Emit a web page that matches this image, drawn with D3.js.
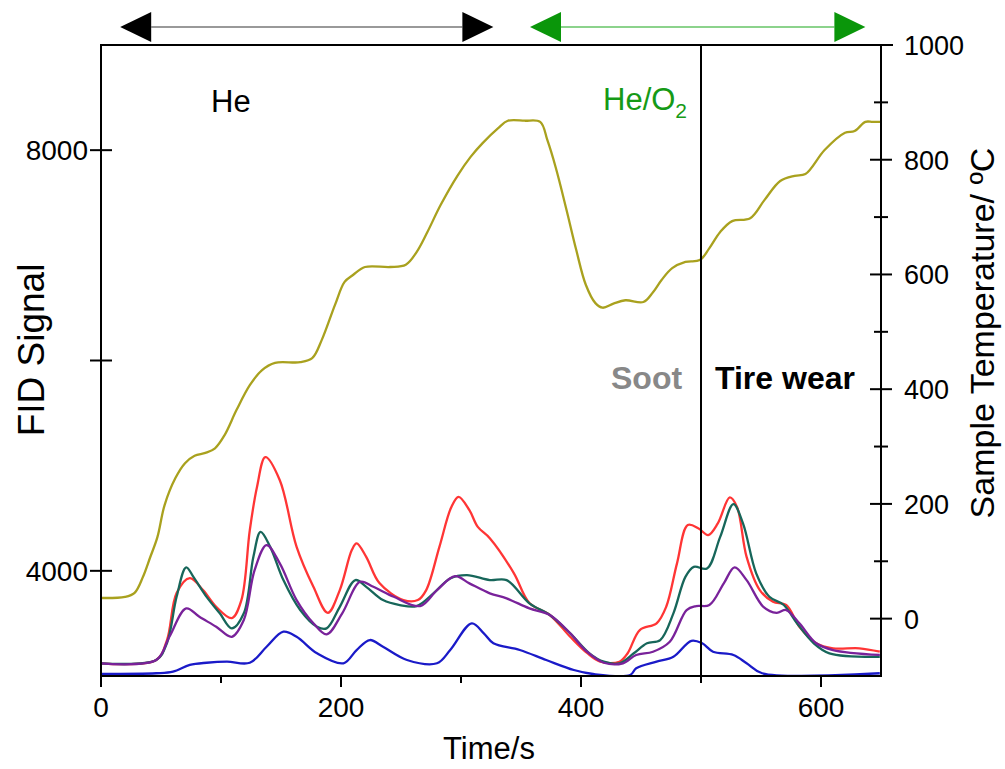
<!DOCTYPE html>
<html><head><meta charset="utf-8">
<script src="https://cdn.jsdelivr.net/npm/d3@7"></script>
<style>
html,body{margin:0;padding:0;background:#fff;}
text{font-family:"Liberation Sans",Arial,sans-serif;}
</style></head>
<body><svg id="c" width="1005" height="769"></svg>
<script>
// ---- data (time in s) ----
const redT   = [0,46,55,63,74,85,96,109,117,124,130,137,149,163,177,189,199,209,213,221,232,252,264,271,282,292,298,307,314,324,344,357,374,391,405,416,432,439,449,463,471,480,489,498,506,514,524,530,538,549,560,571,582,596,610,632,649];
const redV   = [3121,3152,3342,3789,3931,3817,3658,3551,3722,4387,4798,5081,4862,4228,3848,3601,3817,4197,4261,4133,3884,3722,3722,3817,4228,4608,4704,4577,4418,4311,3979,3694,3580,3373,3219,3136,3136,3219,3437,3501,3658,4071,4435,4403,4340,4451,4698,4608,4133,3817,3706,3675,3468,3311,3263,3263,3231];
const tealT  = [0,46,55,63,71,77,88,99,109,119,127,133,141,152,166,180,188,199,212,221,235,249,263,277,291,305,324,338,357,374,391,407,419,432,444,455,466,477,487,494,505,516,527,535,546,557,569,580,594,607,649];
const tealV  = [3121,3152,3314,3753,4033,3943,3753,3596,3453,3596,4133,4371,4228,3912,3627,3468,3453,3658,3912,3848,3722,3675,3665,3786,3928,3960,3912,3912,3691,3580,3406,3216,3136,3121,3216,3311,3342,3596,3943,4038,4023,4323,4634,4451,3976,3753,3675,3501,3311,3216,3183];
const purpT  = [0,46,57,71,82,96,109,119,128,138,149,163,177,188,201,216,227,244,266,280,295,307,324,338,357,374,391,405,419,435,446,460,474,488,496,507,519,528,538,552,563,571,582,596,610,649];
const purpV  = [3121,3152,3373,3643,3563,3468,3373,3532,4007,4245,4071,3722,3501,3396,3596,3896,3848,3753,3665,3817,3950,3881,3786,3738,3643,3580,3406,3231,3126,3121,3200,3231,3326,3627,3665,3675,3881,4033,3912,3658,3601,3627,3501,3311,3247,3200];
const blueT  = [0,46,60,74,88,105,124,138,152,163,180,202,213,224,235,255,280,291,309,319,327,349,371,394,410,441,446,463,477,492,501,510,527,538,551,649];
const blueV  = [3019,3026,3041,3105,3126,3136,3126,3278,3421,3373,3216,3121,3247,3342,3278,3152,3121,3247,3501,3406,3311,3247,3152,3057,3019,3010,3073,3136,3183,3335,3311,3231,3200,3121,3026,3026];
const tempT  = [0,20,28,35,41,47,53,62,70,78,87,95,103,113,124,134,145,166,176,184,195,203,210,220,241,254,263,272,283,297,308,318,331,339,353,366,372,379,388,396,404,412,418,427,437,452,460,467,476,487,499,507,516,526,541,553,566,578,587,603,620,628,637,643,650];
const tempV  = [36,38,45,73,107,142,198,245,271,284,289,297,320,364,407,433,446,447,454,486,547,587,599,613,613,617,639,674,721,772,805,829,855,868,868,866,834,786,712,643,582,550,542,549,555,552,569,590,611,622,625,646,674,693,698,730,763,772,775,817,847,850,866,866,866];

const xTicks = [0,100,200,300,400,500,600];
const xLabels = [0,200,400,600];
const yLeftTicks = [4000,6000,8000];
const yLeftLabels = [4000,8000];
const yRightTicks = [0,100,200,300,400,500,600,700,800,900,1000];
const yRightLabels = [0,200,400,600,800,1000];

const seriesList = [
  {t:redT, v:redV, color:"#ff3535"},
  {t:tealT, v:tealV, color:"#17665a"},
  {t:purpT, v:purpV, color:"#79229a"},
  {t:blueT, v:blueV, color:"#1a1ac8"}
];

// ---- layout ----
const L=101, R=881, T=45, B=676;
const svg = d3.select("#c");
const x = d3.scaleLinear().domain([0,650]).range([L,R]);
const yL = d3.scaleLinear().domain([3000,9000]).range([B,T]);
const yR = d3.scaleLinear().domain([-100,1000]).range([B,T]);

svg.append("defs").append("clipPath").attr("id","clip")
  .append("rect").attr("x",L).attr("y",T).attr("width",R-L).attr("height",B-T);

const g = svg.append("g").attr("clip-path","url(#clip)");
const mk = (ys)=> d3.line().x(d=>x(d[0])).y(d=>ys(d[1])).curve(d3.curveCatmullRom.alpha(0.5));

seriesList.forEach(s=>{
  g.append("path").datum(s.t.map((t,i)=>[t,s.v[i]]))
   .attr("d", mk(yL)).attr("fill","none").attr("stroke",s.color).attr("stroke-width",2.3);
});
g.append("path").datum(tempT.map((t,i)=>[t,tempV[i]]))
  .attr("d", mk(yR)).attr("fill","none").attr("stroke","#a9a11e").attr("stroke-width",2.3);

// vertical line at 500 s
svg.append("line").attr("x1",x(500)).attr("x2",x(500)).attr("y1",T).attr("y2",B+4)
  .attr("stroke","#000").attr("stroke-width",2);

// frame
const ax = svg.append("g").attr("stroke","#000").attr("stroke-width",2);
ax.append("line").attr("x1",L).attr("x2",L).attr("y1",T).attr("y2",B+1);
ax.append("line").attr("x1",L-1).attr("x2",R+1).attr("y1",B).attr("y2",B);
ax.append("line").attr("x1",R).attr("x2",R).attr("y1",T).attr("y2",B+1);
ax.append("line").attr("x1",L-1).attr("x2",R+12).attr("y1",T).attr("y2",T);

// x ticks
xTicks.forEach(t=>{
  const major = xLabels.includes(t);
  ax.append("line").attr("x1",x(t)).attr("x2",x(t)).attr("y1",B).attr("y2",B+(major?11:7));
});
xLabels.forEach(t=>{
  svg.append("text").attr("x",x(t)).attr("y",B+41).attr("text-anchor","middle")
    .attr("font-size",28).text(t);
});
// left ticks
yLeftTicks.forEach(v=>{
  ax.append("line").attr("x1",L-11).attr("x2",L+11).attr("y1",yL(v)).attr("y2",yL(v));
});
yLeftLabels.forEach(v=>{
  svg.append("text").attr("x",L-13).attr("y",yL(v)+10).attr("text-anchor","end")
    .attr("font-size",28).text(v);
});
// right ticks
yRightTicks.forEach(v=>{
  const major = yRightLabels.includes(v);
  const h = major?11:7;
  ax.append("line").attr("x1",R-h).attr("x2",R+h).attr("y1",yR(v)).attr("y2",yR(v));
});
yRightLabels.forEach(v=>{
  svg.append("text").attr("x",R+23).attr("y",yR(v)+10).attr("text-anchor","start")
    .attr("font-size",27).text(v);
});

// axis titles
svg.append("text").attr("x",489).attr("y",759).attr("text-anchor","middle").attr("font-size",31).text("Time/s");
svg.append("text").attr("transform","translate(44,350) rotate(-90)").attr("text-anchor","middle")
  .attr("font-size",37).text("FID Signal");
svg.append("text").attr("transform","translate(994,333) rotate(-90)").attr("text-anchor","middle")
  .attr("font-size",34).text("Sample Temperature/ ºC");

// annotations
svg.append("text").attr("x",211).attr("y",112).attr("font-size",31).text("He");
const ho = svg.append("text").attr("x",603).attr("y",110).attr("font-size",31).attr("fill","#169a16");
ho.append("tspan").text("He/O");
ho.append("tspan").attr("font-size",21).attr("dy",8).text("2");
svg.append("text").attr("x",611).attr("y",389).attr("font-size",32).attr("font-weight","bold")
  .attr("fill","#888").text("Soot");
svg.append("text").attr("x",715).attr("y",389).attr("font-size",32).attr("font-weight","bold")
  .attr("fill","#000").text("Tire wear");

// arrows
function arrow(t0,t1,lineCol,headCol){
  const a=x(t0), b=x(t1), yy=27, hl=31, hh=15;
  svg.append("line").attr("x1",a+hl).attr("x2",b-hl).attr("y1",yy).attr("y2",yy)
    .attr("stroke",lineCol).attr("stroke-width",1.6);
  svg.append("path").attr("d",`M${a},${yy} L${a+hl},${yy-hh} L${a+hl},${yy+hh} Z`).attr("fill",headCol);
  svg.append("path").attr("d",`M${b},${yy} L${b-hl},${yy-hh} L${b-hl},${yy+hh} Z`).attr("fill",headCol);
}
arrow(16,327,"#777","#000");
arrow(357.5,637,"#66c466","#0a960a");
</script></body></html>
